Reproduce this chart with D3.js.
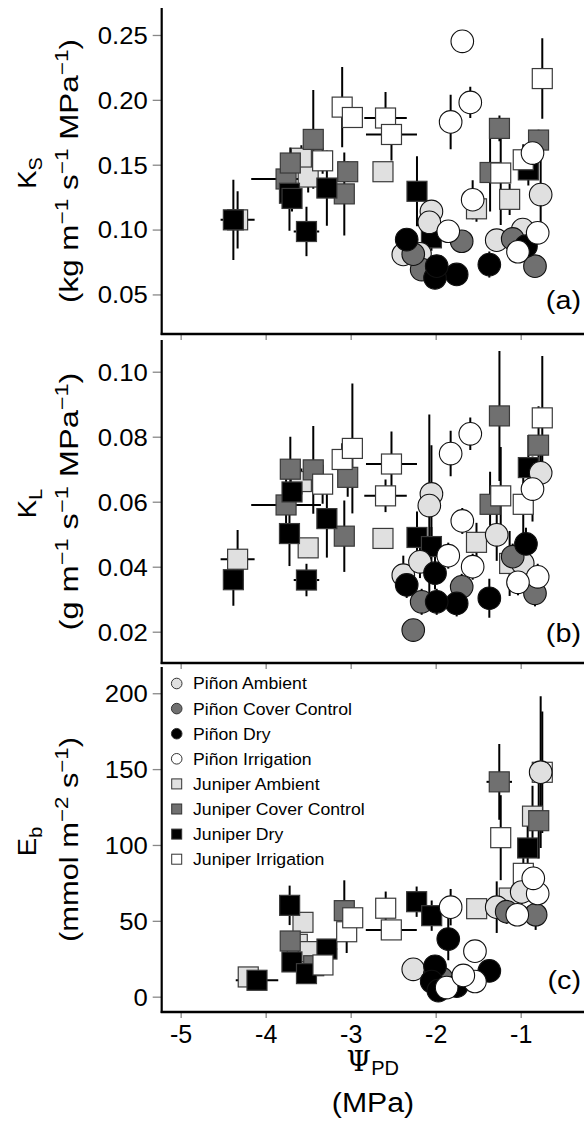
<!DOCTYPE html>
<html><head><meta charset="utf-8">
<script src="https://cdn.jsdelivr.net/npm/d3@7"></script>
<style>
body{margin:0;background:#fff}
svg{display:block}
text{font-family:"Liberation Sans",Arial,Helvetica,sans-serif;fill:#000}
</style>
</head><body><svg id="chart" width="584" height="1124"></svg>
<script>
// ---------- data ----------
const groupNames = ["Piñon Ambient","Piñon Cover Control","Piñon Dry","Piñon Irrigation",
                    "Juniper Ambient","Juniper Cover Control","Juniper Dry","Juniper Irrigation"];
const xTicks  = [-5,-4,-3,-2,-1];
const ksTicks = [0.05,0.10,0.15,0.20,0.25];
const klTicks = [0.02,0.04,0.06,0.08,0.10];
const ebTicks = [0,50,100,150,200];
const ksTickLabels = ["0.05","0.10","0.15","0.20","0.25"];
const klTickLabels = ["0.02","0.04","0.06","0.08","0.10"];
const ebTickLabels = ["0","50","100","150","200"];

// rows: [psiPD, psiSE, Ks, KsSE, KL, KLSE]
const pinonAmbientAB = [
 [-0.765,0.03,0.127,0.030,0.0689,0.006],[-2.05,0.03,0.114,0.005,0.0624,0.015],
 [-2.075,0.03,0.1056,0.005,0.0588,0.028],[-1.282,0.03,0.0918,0.005,0.0498,0.008],
 [-0.976,0.03,0.100,0.005,0.041,0.004],[-2.381,0.03,0.0808,0.004,0.0374,0.006],
 [-2.185,0.03,0.0813,0.004,0.0415,0.005]];
const pinonCoverAB = [
 [-1.694,0.03,0.091,0.004,0.0338,0.004],[-0.832,0.03,0.0718,0.004,0.0318,0.004],
 [-2.165,0.03,0.0692,0.004,0.0292,0.004],[-2.264,0.03,0.081,0.004,0.0205,0.003],
 [-1.094,0.03,0.0928,0.004,0.0431,0.004]];
const pinonDryAB = [
 [-1.753,0.03,0.0654,0.008,0.0287,0.004],[-2.008,0.03,0.0628,0.006,0.038,0.005],
 [-1.369,0.03,0.073,0.010,0.0303,0.006],[-1.988,0.03,0.0718,0.006,0.0292,0.004],
 [-2.341,0.03,0.0923,0.006,0.0344,0.004],[-0.938,0.03,0.0872,0.006,0.047,0.005]];
const pinonIrrigAB = [
 [-1.687,0.02,0.2451,0.003,0.0541,0.004],[-1.593,0.03,0.198,0.012,0.0809,0.005],
 [-1.824,0.03,0.183,0.021,0.0748,0.007],[-1.565,0.03,0.123,0.015,0.040,0.004],
 [-0.861,0.03,0.159,0.010,0.0639,0.010],[-0.800,0.03,0.0975,0.008,0.0369,0.004],
 [-1.032,0.03,0.0829,0.006,0.0352,0.004],[-1.852,0.03,0.0987,0.006,0.0434,0.004]];
const juniperAmbientAB = [
 [-4.33,0.20,0.1075,0.022,0.0423,0.009],[-3.58,0.03,0.155,0.010,0.0662,0.004],
 [-3.50,0.03,0.1405,0.012,0.0458,0.003],[-2.62,0.02,0.1446,0.005,0.0487,0.002],
 [-1.52,0.05,0.116,0.010,0.0475,0.006],[-1.13,0.03,0.1233,0.012,0.041,0.010]];
const juniperCoverAB = [
 [-3.76,0.41,0.139,0.012,0.059,0.008],[-3.71,0.03,0.1513,0.012,0.070,0.010],
 [-3.44,0.05,0.1695,0.038,0.0698,0.0135],[-3.075,0.06,0.1275,0.032,0.0494,0.011],
 [-3.035,0.08,0.1446,0.008,0.0675,0.006],[-1.36,0.05,0.144,0.030,0.0592,0.010],
 [-1.25,0.10,0.178,0.010,0.0864,0.020],[-0.79,0.03,0.169,0.008,0.0774,0.012]];
const juniperDryAB = [
 [-4.38,0.12,0.1075,0.031,0.036,0.008],[-3.72,0.05,0.128,0.029,0.0502,0.010],
 [-3.69,0.05,0.124,0.010,0.063,0.006],[-3.52,0.15,0.0985,0.019,0.0359,0.005],
 [-3.28,0.10,0.132,0.029,0.0548,0.012],[-2.22,0.03,0.1295,0.027,0.049,0.008],
 [-2.05,0.05,0.0936,0.010,0.0462,0.006],[-0.91,0.03,0.146,0.012,0.0705,0.010]];
const juniperIrrigAB = [
 [-3.33,0.05,0.153,0.010,0.0654,0.006],[-3.10,0.06,0.1944,0.031,0.073,0.005],
 [-2.98,0.12,0.1864,0.008,0.0764,0.020],[-2.59,0.25,0.186,0.020,0.0618,0.005],
 [-2.52,0.30,0.1733,0.020,0.0716,0.010],[-1.235,0.05,0.1436,0.040,0.0618,0.015],
 [-0.97,0.05,0.1538,0.012,0.0592,0.012],[-0.746,0.02,0.2164,0.031,0.0858,0.019]];

// rows: [psiPD, psiSE, Eb, EbSE]
const pinonAmbientC = [[-0.765,0.03,148,50],[-2.264,0.03,18,3],[-1.282,0.03,59,17],[-0.988,0.03,69,8]];
const pinonCoverC = [[-0.824,0.03,54,10],[-1.165,0.03,56,8],[-2.008,0.03,15,3],[-1.93,0.03,12,3]];
const pinonDryC = [[-1.852,0.03,38,14],[-2.008,0.03,20,4],[-2.047,0.03,10,3],[-1.753,0.03,7,3],
 [-1.369,0.03,17,4],[-1.969,0.03,4,2]];
const pinonIrrigC = [[-1.824,0.03,59,12],[-1.538,0.03,30,4],[-0.800,0.03,68,8],[-1.040,0.03,54,6],
 [-0.852,0.03,78,8],[-1.871,0.03,6,2],[-1.538,0.03,10,3],[-1.675,0.03,14,3]];
const juniperAmbientC = [[-4.205,0.05,13,2],[-3.561,0.05,49,5],[-3.628,0.05,34.5,5],[-3.499,0.05,29.7,5],
 [-1.518,0.05,58,4],[-1.134,0.05,65,6],[-0.861,0.05,119,20]];
const juniperCoverC = [[-3.711,0.05,36.7,6],[-3.435,0.05,20.4,4],[-3.075,0.08,56.7,20],
 [-1.252,0.15,141.6,25],[-0.788,0.03,116,25]];
const juniperDryC = [[-4.102,0.25,10.8,3],[-3.718,0.05,60.2,13],[-3.691,0.05,22.9,5],[-3.520,0.05,15.2,4],
 [-3.279,0.12,31.4,6],[-2.224,0.03,62.6,10],[-2.047,0.03,53.4,10],[-0.918,0.05,98,18]];
const juniperIrrigC = [[-3.326,0.10,20.9,5],[-3.047,0.10,42.8,14],[-2.976,0.10,52,8],[-2.588,0.05,58.3,11],
 [-2.522,0.30,44,5],[-1.235,0.05,104.8,28],[-0.969,0.05,81.3,15],[-0.746,0.03,147.9,40]];

// ---------- styles ----------
const fills = ["#e0e0e0","#707070","#000000","#ffffff","#e0e0e0","#707070","#000000","#ffffff"];
const shapes = ["circle","circle","circle","circle","square","square","square","square"];
const groupsAB = [pinonAmbientAB,pinonCoverAB,pinonDryAB,pinonIrrigAB,juniperAmbientAB,juniperCoverAB,juniperDryAB,juniperIrrigAB];
const groupsC = [pinonAmbientC,pinonCoverC,pinonDryC,pinonIrrigC,juniperAmbientC,juniperCoverC,juniperDryC,juniperIrrigC];

const svg = d3.select("#chart");
const axisX0 = 161.7, axisX1 = 584;
const x = d3.scaleLinear().domain([-5.223, -0.2553]).range([axisX0, axisX1]);

const panels = [
 {top:8, bottom:334, domain:[0.0195,0.2708], ticks:ksTicks, labels:ksTickLabels, tag:"(a)", tagY:309,
  main:"K", sub:"S", unitLen:264, unit:[["(kg m",""],["−1","sup"],[" s",""],["−1","sup"],[" MPa",""],["−1","sup"],[")",""]],
  pts: groupsAB.map(g=>g.map(r=>({x:r[0],xe:r[1],y:r[2],ye:r[3]})))},
 {top:340, bottom:663, domain:[0.01037,0.10976], ticks:klTicks, labels:klTickLabels, tag:"(b)", tagY:642,
  main:"K", sub:"L", unitLen:258, unit:[["(g m",""],["−1","sup"],[" s",""],["−1","sup"],[" MPa",""],["−1","sup"],[")",""]],
  pts: groupsAB.map(g=>g.map(r=>({x:r[0],xe:r[1],y:r[4],ye:r[5]})))},
 {top:667, bottom:1012, domain:[-10.1,217.3], ticks:ebTicks, labels:ebTickLabels, tag:"(c)", tagY:989,
  main:"E", sub:"b", unitLen:205, unit:[["(mmol m",""],["−2","sup"],[" s",""],["−1","sup"],[")",""]],
  pts: groupsC.map(g=>g.map(r=>({x:r[0],xe:r[1],y:r[2],ye:r[3]})))}
];

panels.forEach((p,pi)=>{
  const y = d3.scaleLinear().domain(p.domain).range([p.bottom,p.top]);
  const g = svg.append("g");
  const clipId = "clip"+pi;
  svg.append("clipPath").attr("id",clipId).append("rect")
    .attr("x",axisX0).attr("y",p.top).attr("width",axisX1-axisX0).attr("height",p.bottom-p.top);

  // y axis
  const yAxis = d3.axisLeft(y).tickValues(p.ticks).tickSize(9).tickFormat((d,i)=>p.labels[i]);
  const ya = g.append("g").attr("transform",`translate(${axisX0},0)`).call(yAxis);
  ya.select(".domain").remove();
  ya.selectAll(".tick line").attr("stroke","#888").attr("stroke-width",1.3);
  ya.selectAll(".tick text").attr("font-size",24).attr("x",0).attr("dy","0.35em")
    .attr("transform","translate(-14,0) scale(1.07,1)")
    .style("font-family","'Liberation Sans',Arial,sans-serif");
  // x axis (ticks only, labels on bottom panel)
  const xAxis = d3.axisBottom(x).tickValues(xTicks).tickSize(6).tickFormat(pi===2? d=>String(d) : "");
  const xa = g.append("g").attr("transform",`translate(0,${p.bottom})`).call(xAxis);
  xa.select(".domain").remove();
  xa.selectAll(".tick line").attr("stroke","#888").attr("stroke-width",1.3);
  xa.selectAll(".tick text").attr("font-size",25).attr("y",13).attr("dy","0.71em")
    .style("font-family","'Liberation Sans',Arial,sans-serif");
  // axis lines
  g.append("line").attr("x1",axisX0).attr("x2",axisX0).attr("y1",p.top).attr("y2",p.bottom+1)
    .attr("stroke","#000").attr("stroke-width",2.2);
  g.append("line").attr("x1",axisX0-1).attr("x2",axisX1).attr("y1",p.bottom).attr("y2",p.bottom)
    .attr("stroke","#000").attr("stroke-width",2.6);

  // y title
  const cy = (p.top+p.bottom)/2;
  const t1 = g.append("text").attr("transform",`translate(36,${cy+2}) rotate(-90) scale(1.1,1)`)
    .attr("text-anchor","middle").attr("font-size",25);
  t1.append("tspan").text(p.main);
  t1.append("tspan").attr("font-size",18).attr("dy",6).text(p.sub);
  const t2 = g.append("text").attr("text-anchor","middle").attr("font-size",25);
  p.unit.forEach(([s,k],i)=>{
    if(k==="sup") t2.append("tspan").attr("font-size",18).attr("dy",-10).text(s);
    else {
      const ts = t2.append("tspan").text(s);
      if(i>0) ts.attr("dy",10);
    }
  });
  const L = t2.node().getComputedTextLength() || p.unitLen;
  t2.attr("transform",`translate(78,${cy}) rotate(-90) scale(${p.unitLen/L},1)`);

  // panel tag
  g.append("text").attr("transform",`translate(581,${p.tagY}) scale(1.15,1)`)
    .attr("text-anchor","end").attr("font-size",25).text(p.tag);

  // data
  const dg = g.append("g").attr("clip-path",`url(#${clipId})`);
  const order = [4,5,6,7,0,1,2,3];
  order.forEach(gi=>{
    const pts = p.pts[gi];
    const eg = dg.append("g");
    eg.selectAll(".ev").data(pts).join("line")
      .attr("x1",d=>x(d.x)).attr("x2",d=>x(d.x)).attr("y1",d=>y(d.y-d.ye)).attr("y2",d=>y(d.y+d.ye))
      .attr("stroke","#000").attr("stroke-width",2);
    eg.selectAll(".eh").data(pts).join("line")
      .attr("x1",d=>x(d.x-d.xe)).attr("x2",d=>x(d.x+d.xe)).attr("y1",d=>y(d.y)).attr("y2",d=>y(d.y))
      .attr("stroke","#000").attr("stroke-width",2);
  });
  order.forEach(gi=>{
    const pts = p.pts[gi];
    if(shapes[gi]==="square"){
      dg.append("g").selectAll("rect").data(pts).join("rect")
        .attr("x",d=>x(d.x)-10).attr("y",d=>y(d.y)-10).attr("width",20).attr("height",20)
        .attr("fill",fills[gi]).attr("stroke","#3a3a3a").attr("stroke-width",1.2);
    } else {
      dg.append("g").selectAll("circle").data(pts).join("circle")
        .attr("cx",d=>x(d.x)).attr("cy",d=>y(d.y)).attr("r",11.3)
        .attr("fill",fills[gi]).attr("stroke","#111").attr("stroke-width",1.1);
    }
  });
});

// legend
const lg = svg.append("g");
groupNames.forEach((name,i)=>{
  const yy = 683.5 + i*25.1;
  if(shapes[i]==="circle"){
    lg.append("circle").attr("cx",176.7).attr("cy",yy).attr("r",5.3)
      .attr("fill",fills[i]).attr("stroke","#333").attr("stroke-width",1);
  } else {
    lg.append("rect").attr("x",171.7).attr("y",yy-5).attr("width",10).attr("height",10)
      .attr("fill",fills[i]).attr("stroke","#333").attr("stroke-width",1);
  }
  lg.append("text").attr("transform",`translate(193,${yy}) scale(1.07,1)`)
    .attr("dy","0.36em").attr("font-size",16.5).text(name);
});

// x title
const xt = svg.append("text").attr("x",372.8).attr("y",1071).attr("text-anchor","middle").attr("font-size",28);
xt.append("tspan").style("font-family","'DejaVu Serif',serif").text("Ψ");
xt.append("tspan").attr("font-size",20).attr("dy",4).text("PD");
svg.append("text").attr("transform","translate(373,1112) scale(1.12,1)")
  .attr("text-anchor","middle").attr("font-size",27).text("(MPa)");
</script>
</body></html>
